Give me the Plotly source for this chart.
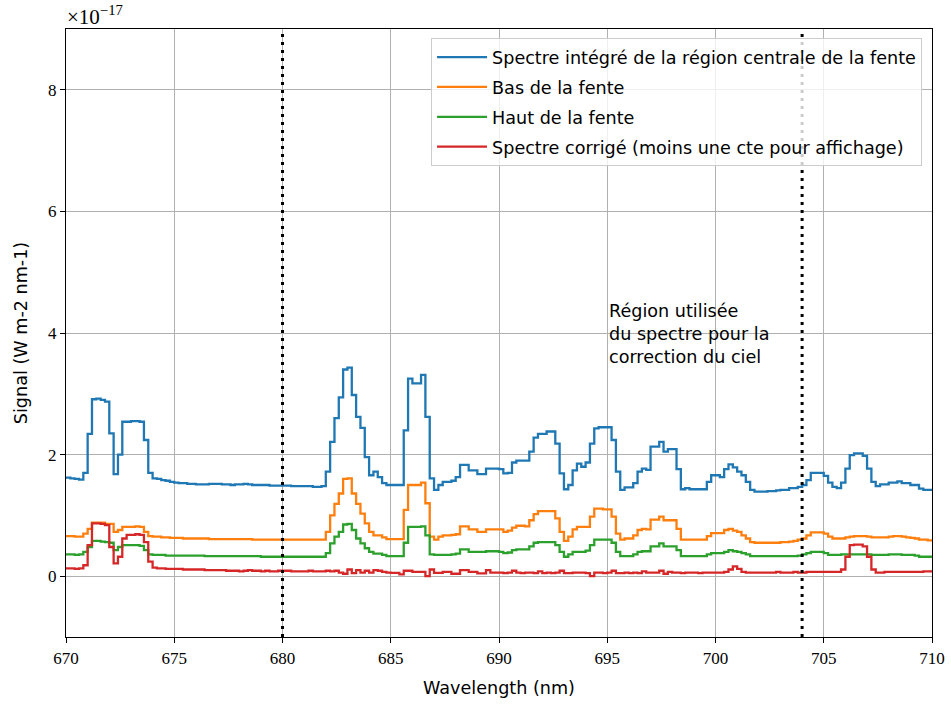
import plotly.graph_objects as go

# Wavelength grid (nm): 670 to 710 by 0.2 nm
wl_start = 670.0
wl_step = 0.2
n_points = 201
wavelength = [round(wl_start + wl_step * i, 1) for i in range(n_points)]

# Signals in units of 1e-17 W m-2 nm-1
spectre_central = [
    1.62, 1.61, 1.60, 1.59, 1.70, 2.34, 2.91, 2.92, 2.90, 2.87,
    2.35, 1.68, 2.00, 2.54, 2.54, 2.55, 2.55, 2.54, 2.24, 1.70,
    1.61, 1.60, 1.58, 1.57, 1.55, 1.54, 1.53, 1.53, 1.52, 1.52,
    1.51, 1.51, 1.51, 1.52, 1.52, 1.52, 1.51, 1.51, 1.50, 1.51,
    1.51, 1.52, 1.51, 1.50, 1.50, 1.50, 1.50, 1.49, 1.49, 1.49,
    1.49, 1.49, 1.48, 1.48, 1.48, 1.48, 1.48, 1.47, 1.47, 1.48,
    1.72, 2.21, 2.60, 2.94, 3.40, 3.43, 2.98, 2.62, 2.44, 1.96,
    1.66, 1.72, 1.63, 1.53, 1.50, 1.50, 1.50, 1.50, 2.40, 3.25,
    3.17, 3.17, 3.31, 2.62, 1.61, 1.42, 1.50, 1.55, 1.55, 1.57,
    1.63, 1.83, 1.83, 1.74, 1.74, 1.68, 1.68, 1.77, 1.77, 1.77,
    1.76, 1.69, 1.70, 1.87, 1.90, 1.90, 1.90, 2.05, 2.28, 2.34,
    2.34, 2.38, 2.38, 2.18, 1.69, 1.43, 1.50, 1.74, 1.85, 1.80,
    1.87, 2.18, 2.43, 2.45, 2.45, 2.45, 2.24, 1.72, 1.42, 1.46,
    1.46, 1.53, 1.72, 1.77, 1.75, 2.13, 2.13, 2.21, 2.05, 2.09,
    2.09, 1.76, 1.43, 1.45, 1.43, 1.43, 1.43, 1.43, 1.55, 1.66,
    1.66, 1.63, 1.76, 1.84, 1.79, 1.72, 1.66, 1.55, 1.42, 1.39,
    1.39, 1.39, 1.40, 1.40, 1.41, 1.42, 1.42, 1.45, 1.45, 1.47,
    1.50, 1.58, 1.70, 1.70, 1.70, 1.65, 1.54, 1.47, 1.45, 1.54,
    1.77, 1.99, 2.02, 2.02, 1.98, 1.77, 1.55, 1.48, 1.51, 1.51,
    1.54, 1.54, 1.56, 1.53, 1.53, 1.50, 1.50, 1.44, 1.42, 1.42,
    1.42,
]

bas_fente = [
    0.66, 0.66, 0.65, 0.65, 0.70, 0.78, 0.88, 0.88, 0.88, 0.86,
    0.86, 0.73, 0.76, 0.81, 0.81, 0.81, 0.82, 0.81, 0.73, 0.66,
    0.65, 0.65, 0.64, 0.64, 0.63, 0.63, 0.63, 0.62, 0.62, 0.62,
    0.62, 0.62, 0.62, 0.61, 0.61, 0.61, 0.61, 0.61, 0.61, 0.61,
    0.61, 0.61, 0.61, 0.60, 0.60, 0.60, 0.60, 0.60, 0.60, 0.60,
    0.60, 0.60, 0.60, 0.60, 0.60, 0.60, 0.60, 0.60, 0.60, 0.60,
    0.73, 1.00, 1.19, 1.36, 1.60, 1.61, 1.36, 1.19, 1.03, 0.87,
    0.73, 0.67, 0.67, 0.64, 0.61, 0.61, 0.61, 0.61, 1.09, 1.50,
    1.50, 1.50, 1.54, 1.20, 0.65, 0.60, 0.65, 0.67, 0.67, 0.68,
    0.69, 0.82, 0.82, 0.77, 0.77, 0.73, 0.73, 0.77, 0.77, 0.77,
    0.77, 0.73, 0.75, 0.80, 0.83, 0.83, 0.82, 0.92, 1.02, 1.07,
    1.07, 1.07, 1.07, 0.95, 0.73, 0.58, 0.65, 0.77, 0.81, 0.81,
    0.81, 0.98, 1.11, 1.11, 1.10, 1.10, 0.98, 0.70, 0.60, 0.62,
    0.62, 0.67, 0.76, 0.78, 0.77, 0.93, 0.93, 0.98, 0.92, 0.92,
    0.92, 0.78, 0.60, 0.60, 0.60, 0.60, 0.60, 0.60, 0.66, 0.71,
    0.71, 0.71, 0.76, 0.78, 0.75, 0.73, 0.67, 0.62, 0.56, 0.55,
    0.55, 0.55, 0.55, 0.55, 0.55, 0.56, 0.56, 0.57, 0.58, 0.60,
    0.62, 0.67, 0.72, 0.72, 0.72, 0.70, 0.65, 0.62, 0.62, 0.62,
    0.64, 0.65, 0.66, 0.66, 0.66, 0.65, 0.64, 0.64, 0.64, 0.64,
    0.65, 0.66, 0.66, 0.65, 0.64, 0.63, 0.62, 0.60, 0.60, 0.59,
    0.59,
]

haut_fente = [
    0.36, 0.36, 0.35, 0.36, 0.40, 0.48, 0.58, 0.58, 0.57, 0.56,
    0.55, 0.43, 0.48, 0.51, 0.51, 0.51, 0.51, 0.50, 0.43, 0.36,
    0.35, 0.35, 0.35, 0.34, 0.34, 0.34, 0.34, 0.34, 0.34, 0.34,
    0.34, 0.34, 0.33, 0.33, 0.33, 0.33, 0.33, 0.33, 0.33, 0.33,
    0.33, 0.33, 0.33, 0.33, 0.33, 0.32, 0.32, 0.32, 0.32, 0.32,
    0.32, 0.32, 0.32, 0.32, 0.32, 0.32, 0.32, 0.32, 0.32, 0.32,
    0.38, 0.54, 0.65, 0.73, 0.85, 0.86, 0.76, 0.62, 0.54, 0.46,
    0.40, 0.37, 0.37, 0.35, 0.33, 0.33, 0.33, 0.33, 0.55, 0.81,
    0.81, 0.81, 0.82, 0.67, 0.36, 0.35, 0.35, 0.35, 0.35, 0.36,
    0.37, 0.44, 0.44, 0.40, 0.40, 0.40, 0.40, 0.41, 0.41, 0.41,
    0.40, 0.38, 0.39, 0.43, 0.44, 0.44, 0.44, 0.49, 0.55, 0.56,
    0.56, 0.56, 0.56, 0.51, 0.40, 0.32, 0.36, 0.40, 0.40, 0.40,
    0.42, 0.51, 0.60, 0.60, 0.60, 0.60, 0.55, 0.40, 0.33, 0.33,
    0.33, 0.36, 0.40, 0.41, 0.41, 0.49, 0.49, 0.54, 0.49, 0.49,
    0.49, 0.43, 0.33, 0.33, 0.33, 0.33, 0.33, 0.33, 0.36, 0.38,
    0.38, 0.38, 0.40, 0.43, 0.41, 0.40, 0.38, 0.36, 0.33, 0.33,
    0.33, 0.33, 0.33, 0.33, 0.33, 0.33, 0.33, 0.33, 0.33, 0.34,
    0.36, 0.38, 0.40, 0.40, 0.40, 0.38, 0.35, 0.35, 0.35, 0.36,
    0.36, 0.36, 0.36, 0.36, 0.36, 0.36, 0.35, 0.35, 0.35, 0.35,
    0.36, 0.36, 0.36, 0.35, 0.35, 0.35, 0.34, 0.32, 0.32, 0.32,
    0.32,
]

spectre_corrige = [
    0.13, 0.13, 0.12, 0.13, 0.18, 0.51, 0.87, 0.87, 0.86, 0.84,
    0.48, 0.21, 0.32, 0.62, 0.68, 0.68, 0.69, 0.68, 0.56, 0.24,
    0.14, 0.13, 0.13, 0.12, 0.12, 0.12, 0.12, 0.11, 0.11, 0.11,
    0.11, 0.11, 0.10, 0.10, 0.10, 0.10, 0.10, 0.09, 0.09, 0.09,
    0.08, 0.09, 0.10, 0.09, 0.09, 0.08, 0.09, 0.08, 0.08, 0.09,
    0.09, 0.09, 0.08, 0.08, 0.08, 0.08, 0.09, 0.08, 0.08, 0.08,
    0.09, 0.08, 0.09, 0.06, 0.04, 0.11, 0.05, 0.10, 0.06, 0.09,
    0.06, 0.10, 0.09, 0.07, 0.06, 0.055, 0.055, 0.03, 0.09, 0.09,
    0.07, 0.07, 0.07, 0.00, 0.11, 0.055, 0.055, 0.07, 0.07, 0.04,
    0.04, 0.10, 0.10, 0.07, 0.07, 0.045, 0.045, 0.10, 0.06, 0.06,
    0.06, 0.05, 0.06, 0.09, 0.06, 0.05, 0.06, 0.06, 0.05, 0.08,
    0.05, 0.06, 0.05, 0.06, 0.09, 0.05, 0.05, 0.06, 0.06, 0.06,
    0.05, 0.00, 0.06, 0.06, 0.05, 0.06, 0.09, 0.05, 0.05, 0.06,
    0.05, 0.06, 0.05, 0.08, 0.06, 0.06, 0.06, 0.09, 0.04, 0.07,
    0.06, 0.06, 0.05, 0.06, 0.06, 0.06, 0.05, 0.06, 0.06, 0.06,
    0.06, 0.06, 0.07, 0.11, 0.16, 0.12, 0.07, 0.06, 0.06, 0.06,
    0.06, 0.06, 0.06, 0.06, 0.07, 0.06, 0.06, 0.06, 0.07, 0.06,
    0.06, 0.07, 0.07, 0.07, 0.07, 0.07, 0.07, 0.07, 0.07, 0.11,
    0.32, 0.51, 0.52, 0.52, 0.49, 0.32, 0.11, 0.06, 0.06, 0.07,
    0.07, 0.07, 0.07, 0.07, 0.07, 0.07, 0.07, 0.07, 0.08, 0.08,
    0.08,
]

series_names = [
    "Spectre intégré de la région centrale de la fente",
    "Bas de la fente",
    "Haut de la fente",
    "Spectre corrigé (moins une cte pour affichage)",
]
series_colors = ["#1f77b4", "#ff7f0e", "#2ca02c", "#d62728"]
sky_region = [680, 704]
annotation_text = "Région utilisée<br>du spectre pour la<br>correction du ciel"

SANS = "DejaVu Sans, sans-serif"
SERIF = "Liberation Serif, DejaVu Serif, serif"
SANS_SIZE = 17.6

fig = go.Figure()
for name, vals, col in zip(series_names,
                           [spectre_central, bas_fente, haut_fente, spectre_corrige],
                           series_colors):
    fig.add_trace(go.Scatter(
        x=wavelength, y=vals, mode="lines", name=name,
        line=dict(color=col, width=2.3, shape="hv"),
        legendgroup=name,
    ))

for xv in sky_region:
    fig.add_shape(type="line", xref="x", yref="paper", x0=xv, x1=xv, y0=0, y1=1,
                  line=dict(color="black", width=3, dash="3px,5px"))

fig.add_annotation(x=695, y=4.56, xref="x", yref="y", text=annotation_text,
                   showarrow=False, xanchor="left", yanchor="top", align="left",
                   font=dict(family=SANS, size=SANS_SIZE, color="black"))

fig.add_annotation(x=0, y=1, xref="paper", yref="paper", yshift=-2, xshift=-1,
                   text="×10<sup>−17</sup>", showarrow=False,
                   xanchor="left", yanchor="bottom",
                   font=dict(family=SERIF, size=21, color="black"))

axis_common = dict(
    showline=True, linecolor="black", linewidth=1.2, mirror=True,
    ticks="outside", ticklen=5, tickwidth=1, tickcolor="black",
    showgrid=True, gridcolor="#b0b0b0", gridwidth=1, zeroline=False,
    tickfont=dict(family=SERIF, size=17, color="black"),
    automargin=False,
)

fig.update_xaxes(range=[670, 710], dtick=5, tick0=670,
                 title=dict(text="Wavelength (nm)",
                            font=dict(family=SANS, size=SANS_SIZE, color="black")),
                 **axis_common)
fig.update_yaxes(range=[-1, 9], dtick=2, tick0=0,
                 title=dict(text="Signal (W m-2 nm-1)",
                            font=dict(family=SANS, size=SANS_SIZE, color="black")),
                 **axis_common)

fig.update_layout(
    width=951, height=704,
    margin=dict(l=66, r=19, t=29, b=67, autoexpand=False),
    plot_bgcolor="white", paper_bgcolor="white",
    showlegend=True,
    legend=dict(x=0.9885, y=0.985, xanchor="right", yanchor="top",
                bgcolor="rgba(255,255,255,0.8)", bordercolor="#cccccc", borderwidth=1,
                font=dict(family=SANS, size=SANS_SIZE, color="black"),
                traceorder="grouped", tracegroupgap=4, itemwidth=50),
)

fig.write_html("out.html", config={"displayModeBar": False},
               post_script="document.body.style.margin='0';document.body.style.padding='0';")
